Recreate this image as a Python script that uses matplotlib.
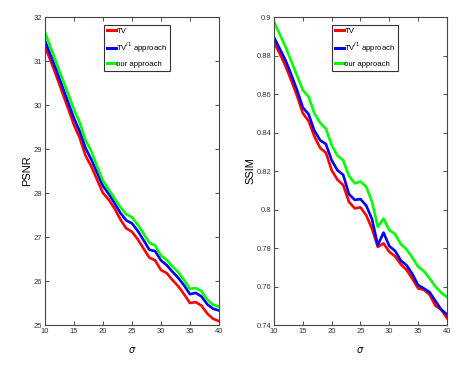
import numpy as np
import matplotlib
matplotlib.use('Agg')
import matplotlib.pyplot as plt

plt.rcParams['font.family'] = ['Liberation Sans Narrow', 'Liberation Sans', 'DejaVu Sans']

# noise level sigma
sigma = list(range(10, 41))

# PSNR curves
psnr_tv = [31.33, 31.0, 30.65, 30.28, 29.92, 29.55, 29.25, 28.85, 28.6, 28.3, 28.0,
           27.85, 27.65, 27.4, 27.2, 27.12, 26.95, 26.74, 26.53, 26.47, 26.25,
           26.18, 26.02, 25.88, 25.7, 25.5, 25.52, 25.44, 25.26, 25.14, 25.09]
psnr_tvl1 = [31.46, 31.12, 30.78, 30.42, 30.06, 29.7, 29.4, 29.02, 28.76, 28.46, 28.16,
             27.98, 27.77, 27.55, 27.38, 27.31, 27.14, 26.93, 26.71, 26.68, 26.47,
             26.36, 26.21, 26.07, 25.9, 25.7, 25.73, 25.65, 25.47, 25.37, 25.33]
psnr_ours = [31.65, 31.3, 30.95, 30.6, 30.25, 29.9, 29.6, 29.2, 28.95, 28.6, 28.28,
             28.08, 27.88, 27.68, 27.52, 27.45, 27.28, 27.08, 26.87, 26.81, 26.58,
             26.48, 26.33, 26.2, 26.02, 25.82, 25.84, 25.77, 25.58, 25.46, 25.42]

# SSIM curves
ssim_tv = [0.8866, 0.881, 0.8745, 0.867, 0.859, 0.850, 0.846, 0.838, 0.832, 0.8295, 0.8204,
           0.8155, 0.8127, 0.804, 0.8006, 0.8011, 0.797, 0.790, 0.7806, 0.7824, 0.778,
           0.7757, 0.7715, 0.7686, 0.764, 0.759, 0.7583, 0.7557, 0.750, 0.748, 0.7436]
ssim_tvl1 = [0.8894, 0.8835, 0.8775, 0.870, 0.862, 0.853, 0.8495, 0.841, 0.836, 0.834, 0.8256,
             0.8204, 0.818, 0.808, 0.805, 0.8054, 0.802, 0.795, 0.7815, 0.788, 0.781,
             0.7785, 0.7735, 0.771, 0.7665, 0.7607, 0.759, 0.757, 0.7525, 0.748, 0.7455]
ssim_ours = [0.8976, 0.891, 0.8845, 0.877, 0.8695, 0.862, 0.8586, 0.850, 0.845, 0.842, 0.8335,
             0.828, 0.8256, 0.8175, 0.8136, 0.8145, 0.8118, 0.804, 0.791, 0.7953, 0.7893,
             0.7872, 0.782, 0.7793, 0.775, 0.7703, 0.768, 0.7642, 0.760, 0.7568, 0.7545]

labels = ['TV', 'TV$^{l1}$ approach', 'our approach']
colors = ['#ff0000', '#0000ff', '#00ff00']

fig = plt.figure(figsize=(4.7, 3.66), dpi=100)
ax1 = fig.add_axes([0.0957, 0.112, 0.370, 0.8415])
ax2 = fig.add_axes([0.583, 0.112, 0.368, 0.8415])


def style(ax, ylim, yticks, yfmt, ylabel):
    ax.set_xlim(10, 40)
    ax.set_ylim(*ylim)
    ax.set_xticks([10, 15, 20, 25, 30, 35, 40])
    ax.set_yticks(yticks)
    ax.set_yticklabels([yfmt(v) for v in yticks])
    ax.tick_params(direction='in', length=3, width=0.6, labelsize=5.5,
                   top=True, right=True, pad=2, colors='#333333')
    for s in ax.spines.values():
        s.set_linewidth(0.8)
        s.set_color('#444444')
    ax.set_xlabel('$\\sigma$', fontsize=7, labelpad=7)
    ax.set_ylabel(ylabel, fontsize=8, labelpad=1)


for ax, series in [(ax1, [psnr_tv, psnr_tvl1, psnr_ours]),
                   (ax2, [ssim_tv, ssim_tvl1, ssim_ours])]:
    for y, lab, c in zip(series, labels, colors):
        ax.plot(sigma, y, color=c, lw=1.9, label=lab)

style(ax1, (25, 32), list(range(25, 33)), lambda v: str(v), 'PSNR')
style(ax2, (0.74, 0.9), [0.74, 0.76, 0.78, 0.8, 0.82, 0.84, 0.86, 0.88, 0.9],
      lambda v: ('%g' % v), 'SSIM')

for ax, bx in [(ax1, 0.339), (ax2, 0.335)]:
    leg = ax.legend(loc='upper left', bbox_to_anchor=(bx, 0.974), fontsize=5.6,
                    frameon=True, fancybox=False, edgecolor='black',
                    handlelength=1.2, handletextpad=0.05, borderpad=0.35,
                    labelspacing=0.7, borderaxespad=0)
    leg.get_frame().set_linewidth(0.8)
    for h in leg.get_lines():
        h.set_linewidth(2.2)

fig.savefig('out.png', dpi=100)
